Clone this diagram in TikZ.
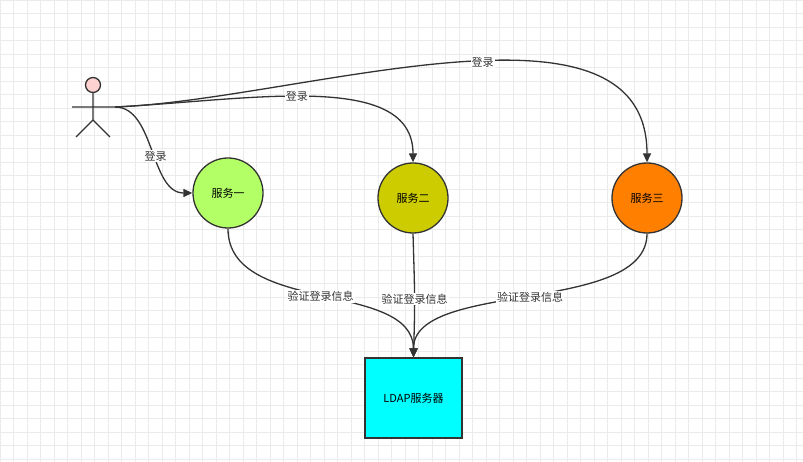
\documentclass[tikz,border=0pt]{standalone}
\usepackage{fontspec}
\setmainfont{Noto Sans CJK SC}
\usetikzlibrary{arrows.meta}
\definecolor{lime}{HTML}{B3FF66}
\definecolor{olive2}{HTML}{CCCC00}
\definecolor{orange2}{HTML}{FF8000}
\definecolor{aqua}{HTML}{00FFFF}
\begin{document}
\begin{tikzpicture}[x=1pt,y=-1pt,font=\fontsize{11}{12}\selectfont]
        \tikzstyle{service}=[circle,line width=1.3pt,draw=black!80,minimum size=70pt,inner sep=0pt]
        \tikzstyle{edge}=[draw,line width=1.3pt,black!80,-{Triangle[length=9pt,width=8pt]}]
        \tikzstyle{lbl}=[fill=white,inner sep=1pt,text=black!80]
        \useasboundingbox (0,0) rectangle (803,462);
        \foreach \i in {0,...,60} {
          \draw[black!8] (\i*13.5,0) -- (\i*13.5,462);
        }
        \foreach \j in {0,...,34} {
          \draw[black!8] (0,\j*13.5) -- (803,\j*13.5);
        }
        % actor
        \node [circle,line width=1.3pt,draw=black!80,fill=pink!70,minimum size=15pt,inner sep=0pt] (head) at (93,85) {};
        \draw[line width=1.3pt,black!80] (head.south) -- (93,120) (72,107) -- (115,107)
          (76,137) -- (93,120) -- (110,137);
        \coordinate (hand) at (115,107);
        % services
        \node [service,fill=lime] (s1) at (228,193) {服务一};
        \node [service,fill=olive2] (s2) at (413,198) {服务二};
        \node [service,fill=orange2] (s3) at (647,198) {服务三};
        \node [rectangle,line width=1.3pt,draw=black!80,fill=aqua,minimum width=97pt,minimum height=80pt] (ldap) at (413.5,398) {LDAP服务器};
        % login
        \path[edge] (hand) .. controls (155,107) and (150,193) .. node[lbl,pos=0.55] {登录} (s1.west);
        \path[edge] (hand) .. controls (250,100) and (413,70) .. node[lbl,pos=0.45] {登录} (s2.north);
        \path[edge] (hand) .. controls (300,100) and (647,-20) .. node[lbl,pos=0.55] {登录} (s3.north);
        % verify
        \path[edge] (s1.south) .. controls (228,315) and (413,280) .. node[lbl,pos=0.5] {验证登录信息} (ldap.north);
        \path[edge] (s2.south) .. controls (415,300) .. node[lbl,pos=0.5] {验证登录信息} (ldap.north);
        \path[edge] (s3.south) .. controls (647,315) and (413,280) .. node[lbl,pos=0.5] {验证登录信息} (ldap.north);
\end{tikzpicture}
\end{document}
